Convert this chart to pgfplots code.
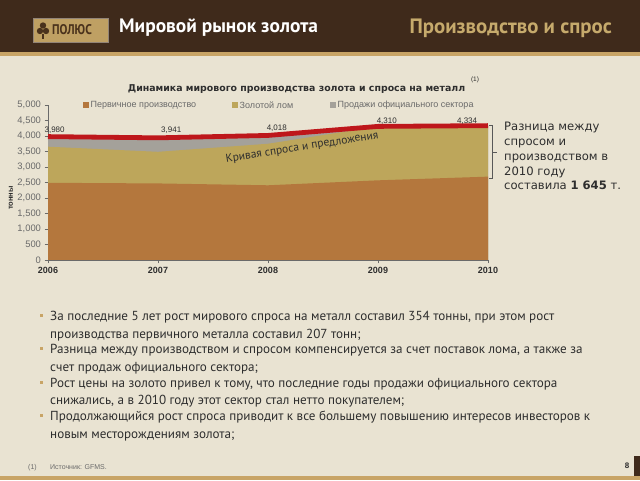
\documentclass[border=0pt]{standalone}
\usepackage{graphicx}
\usepackage{pgfplots}
\pgfplotsset{compat=1.18}
\usepackage{fontspec}
\setmainfont{Liberation Sans}
\newfontfamily\pts{PT Sans}
\newfontfamily\djv{DejaVu Sans}
\definecolor{bg}{HTML}{E9E3D2}
\definecolor{hdr}{HTML}{3F2A1B}
\definecolor{goldline}{HTML}{C8A466}
\definecolor{cprod}{HTML}{B4773D}
\definecolor{cscrap}{HTML}{BDA65B}
\definecolor{coff}{HTML}{A4A19A}
\definecolor{cred}{HTML}{BE171B}
\definecolor{ctitle}{HTML}{C6AA6C}
\definecolor{logo}{HTML}{BFA063}
\definecolor{logotxt}{HTML}{4A321C}
\definecolor{txt}{HTML}{2E2E2E}
\definecolor{tickc}{HTML}{6A6A6A}
\begin{document}
\begin{tikzpicture}[x=1pt,y=1pt]
\useasboundingbox (0,0) rectangle (640,480);
\fill[bg] (0,0) rectangle (640,480);
% header
\fill[hdr] (0,428) rectangle (640,480);
\fill[goldline] (0,424) rectangle (640,428);
% logo
\fill[logo] (33,438) rectangle (108,462);
\draw[logotxt!60, line width=0.4pt] (33,438) rectangle (108,462);
\fill[logotxt] (40,449) circle (3.2);
\fill[logotxt] (46,449) circle (3.2);
\fill[logotxt] (43,454.5) circle (3.2);
\fill[logotxt] (42.2,441) rectangle (43.8,446);
\node[anchor=west, inner sep=0, text=logotxt, font=\pts\bfseries\fontsize{14}{16}\selectfont] at (52,450) {\scalebox{0.84}[1]{ПОЛЮС}};
\node[anchor=west, inner sep=0, text=white, font=\pts\bfseries\fontsize{19.4}{21}\selectfont] at (119,452) {Мировой рынок золота};
\node[anchor=east, inner sep=0, text=ctitle, font=\pts\bfseries\fontsize{20.8}{22}\selectfont] at (612,452) {Производство и спрос};
% chart title
\node[inner sep=0, text=txt, font=\djv\bfseries\fontsize{9.4}{11}\selectfont] at (296.5,390.5) {Динамика мирового производства золота и спроса на металл};
\node[inner sep=0, text=txt, font=\fontsize{6.5}{7}\selectfont] at (475,400) {(1)};
% legend
\fill[cprod] (83,372) rectangle (89,378);
\node[anchor=west, inner sep=0, text=tickc, font=\fontsize{9}{10}\selectfont] at (90.5,375) {Первичное производство};
\fill[cscrap] (232,372) rectangle (238,378);
\node[anchor=west, inner sep=0, text=tickc, font=\fontsize{9}{10}\selectfont] at (239.5,375) {Золотой лом};
\fill[coff] (330,372) rectangle (336,378);
\node[anchor=west, inner sep=0, text=tickc, font=\fontsize{9}{10}\selectfont] at (337.5,375) {Продажи официального сектора};
% y label
\node[rotate=90, inner sep=0, text=txt, font=\bfseries\fontsize{7.5}{8}\selectfont] at (11,282) {тонны};
\begin{axis}[
  at={(48pt,220pt)}, anchor=south west, scale only axis,
  width=440pt, height=155pt,
  xmin=2006, xmax=2010, ymin=0, ymax=5000,
  axis x line*=bottom, axis y line*=left,
  axis line style={draw=tickc, line width=0.6pt, -},
  xtick={2006,2007,2008,2009,2010}, ytick={0,500,...,5000},
  tick style={draw=tickc, line width=0.6pt}, tick align=outside, major tick length=3.5pt,
  /pgf/number format/assume math mode=true,
  x tick label style={font=\bfseries\fontsize{9}{10}\selectfont, text=txt, /pgf/number format/1000 sep={}},
  y tick label style={font=\fontsize{9.4}{10}\selectfont, text=tickc, /pgf/number format/1000 sep={,}},
  clip=false,
]
\addplot[fill=coff, draw=none] coordinates {(2006,3980) (2007,3941) (2008,4018) (2009,4310) (2010,4334)} \closedcycle;
\addplot[fill=cscrap, draw=none] coordinates {(2006,3655) (2007,3490) (2008,3750) (2009,4310) (2010,4334)} \closedcycle;
\addplot[fill=cprod, draw=none] coordinates {(2006,2490) (2007,2470) (2008,2410) (2009,2570) (2010,2689)} \closedcycle;
\addplot[cred, line width=4.8pt, line join=round] coordinates {(2006,3980) (2007,3941) (2008,4018) (2009,4310) (2010,4334)};
\node[inner sep=0, text=txt, font=\fontsize{8}{9}\selectfont] at (axis cs:2006.06,4200) {3,980};
\node[inner sep=0, text=txt, font=\fontsize{8}{9}\selectfont] at (axis cs:2007.12,4200) {3,941};
\node[inner sep=0, text=txt, font=\fontsize{8}{9}\selectfont] at (axis cs:2008.08,4260) {4,018};
\node[inner sep=0, text=txt, font=\fontsize{8}{9}\selectfont] at (axis cs:2009.08,4480) {4,310};
\node[inner sep=0, text=txt, font=\fontsize{8}{9}\selectfont] at (axis cs:2009.81,4480) {4,334};
\node[inner sep=0, rotate=9, text=txt, font=\pts\fontsize{11.5}{12}\selectfont] at (axis cs:2008.31,3630) {Кривая спроса и предложения};
\end{axis}
% bracket
\draw[txt!80, line width=0.6pt] (489,355) -- (492,355) -- (492,302) -- (489,302);
\draw[txt!80, line width=0.6pt] (492,328) -- (497,328);
% right text
\begin{scope}[every node/.style={anchor=base west, inner sep=0, text=txt, font=\djv\fontsize{11.6}{12}\selectfont}]
\node at (504,349.5) {Разница между};
\node at (504,334.5) {спросом и};
\node at (504,319.5) {производством в};
\node at (504,304.5) {2010 году};
\node at (504,290) {составила \textbf{1 645} т.};
\end{scope}
% bullets
\begin{scope}[every node/.style={anchor=base west, inner sep=0, text=txt, font=\pts\fontsize{13.1}{14}\selectfont}]
\foreach \y in {164,131,97,64} {\fill[goldline] (39.5,\y-1) rectangle (43,\y+2.5);}
\node at (50,160) {За последние 5 лет рост мирового спроса на металл составил 354 тонны, при этом рост};
\node at (50,142) {производства первичного металла составил 207 тонн;};
\node at (50,127) {Разница между производством и спросом компенсируется за счет поставок лома, а также за};
\node at (50,109) {счет продаж официального сектора;};
\node at (50,93) {Рост цены на золото привел к тому, что последние годы продажи официального сектора};
\node at (50,76) {снижались, а в 2010 году этот сектор стал нетто покупателем;};
\node at (50,60) {Продолжающийся рост спроса приводит к все большему повышению интересов инвесторов к};
\node at (50,42) {новым месторождениям золота;};
\end{scope}
% footer
\fill[goldline] (0,0) rectangle (640,4);
\fill[hdr] (634,4) rectangle (640,24);
\node[anchor=base west, inner sep=0, text=tickc, font=\fontsize{7}{8}\selectfont] at (28,11) {(1)};
\node[anchor=base west, inner sep=0, text=tickc, font=\fontsize{7}{8}\selectfont] at (50,11) {Источник: GFMS.};
\node[anchor=base, inner sep=0, text=txt, font=\bfseries\fontsize{8}{9}\selectfont] at (627,12) {8};
\end{tikzpicture}
\end{document}
